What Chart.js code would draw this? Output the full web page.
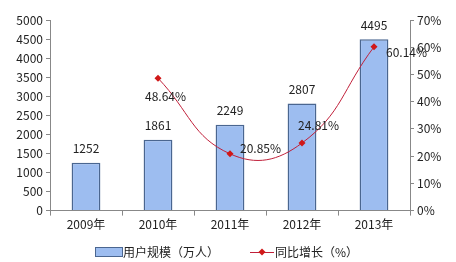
<!DOCTYPE html>
<html>
<head>
<meta charset="utf-8">
<script src="https://cdn.jsdelivr.net/npm/chart.js@4.4.1/dist/chart.umd.min.js"></script>
<style>
  html, body { margin:0; padding:0; background:#fff; }
  #wrap { width:456px; height:262px; position:relative; }
</style>
</head>
<body>
<div id="wrap"><canvas id="c" width="456" height="262"></canvas></div>
<script>
const years = ["2009年", "2010年", "2011年", "2012年", "2013年"];
const users = [1252, 1861, 2249, 2807, 4495];
const growth = [null, 48.64, 20.85, 24.81, 60.14];
const leftTicks = [0, 500, 1000, 1500, 2000, 2500, 3000, 3500, 4000, 4500, 5000];
const rightTicks = [0, 10, 20, 30, 40, 50, 60, 70];

const FONT = "'Noto Sans CJK SC', 'DejaVu Sans', sans-serif";
const BAR_FILL = "#9dbdf0";
const BAR_EDGE = "#4a6690";
const LINE_COL = "#c0203a";
const DOT_COL = "#d01818";

// value labels + legend
const labelPlugin = {
  id: "labels",
  afterDatasetsDraw(chart) {
    const ctx = chart.ctx;
    ctx.save();
    ctx.font = "12px " + FONT;
    ctx.fillStyle = "#222";
    chart.getDatasetMeta(0).data.forEach((bar, i) => {
      ctx.textAlign = "center";
      ctx.textBaseline = "middle";
      ctx.fillText(users[i], bar.x, bar.y - 14);
    });
    const offs = [null, [-13, 18], [10, -5], [-4, -18], [12, 6]];
    chart.getDatasetMeta(1).data.forEach((pt, i) => {
      if (growth[i] == null) return;
      ctx.textAlign = "left";
      ctx.textBaseline = "middle";
      ctx.fillText(growth[i].toFixed(2) + "%", pt.x + offs[i][0], pt.y + offs[i][1]);
    });

    // legend
    const ly = 252;
    ctx.fillStyle = BAR_FILL;
    ctx.strokeStyle = BAR_EDGE;
    ctx.lineWidth = 1;
    ctx.fillRect(95, ly - 5, 27, 9);
    ctx.strokeRect(95.5, ly - 4.5, 27, 9);
    ctx.fillStyle = "#222";
    ctx.textAlign = "left";
    ctx.fillText(chart.data.datasets[0].label, 123, ly);
    ctx.strokeStyle = LINE_COL;
    ctx.beginPath();
    ctx.moveTo(250, ly + 0.5);
    ctx.lineTo(274, ly + 0.5);
    ctx.stroke();
    ctx.fillStyle = DOT_COL;
    ctx.beginPath();
    ctx.moveTo(262, ly - 3.5);
    ctx.lineTo(265.5, ly);
    ctx.lineTo(262, ly + 3.5);
    ctx.lineTo(258.5, ly);
    ctx.closePath();
    ctx.fill();
    ctx.fillStyle = "#222";
    ctx.fillText(chart.data.datasets[1].label, 275, ly);
    ctx.restore();
  }
};

new Chart(document.getElementById("c"), {
  data: {
    labels: years,
    datasets: [
      {
        type: "bar",
        label: "用户规模（万人）",
        data: users,
        yAxisID: "y",
        backgroundColor: BAR_FILL,
        borderColor: BAR_EDGE,
        borderWidth: 1.5,
        barPercentage: 0.4,
        categoryPercentage: 1,
        order: 2
      },
      {
        type: "line",
        label: "同比增长（%）",
        data: growth,
        yAxisID: "y1",
        borderColor: LINE_COL,
        backgroundColor: DOT_COL,
        borderWidth: 1,
        pointStyle: "rectRot",
        pointRadius: 3.5,
        pointBorderWidth: 0,
        tension: 0.45,
        order: 1
      }
    ]
  },
  options: {
    responsive: false,
    animation: false,
    layout: { padding: { top: 20, right: 12, left: 0, bottom: 28 } },
    scales: {
      x: {
        grid: { display: true, drawOnChartArea: false, offset: true, color: "#888", tickLength: 5 },
        border: { color: "#888" },
        ticks: { color: "#222", font: { family: FONT, size: 12 }, padding: 2 }
      },
      y: {
        position: "left",
        min: 0, max: 5000,
        afterBuildTicks: ax => { ax.ticks = leftTicks.map(v => ({ value: v })); },
        afterFit: ax => { ax.width = 50; },
        grid: { display: true, drawOnChartArea: false, color: "#888", tickLength: 4 },
        border: { color: "#888" },
        ticks: { color: "#222", font: { family: FONT, size: 12 }, padding: 3, callback: v => String(v) }
      },
      y1: {
        position: "right",
        min: 0, max: 70,
        afterBuildTicks: ax => { ax.ticks = rightTicks.map(v => ({ value: v })); },
        afterFit: ax => { ax.width = 34; },
        grid: { display: true, drawOnChartArea: false, color: "#888", tickLength: 4 },
        border: { color: "#888" },
        ticks: { color: "#222", font: { family: FONT, size: 12 }, padding: 3, callback: v => v + "%" }
      }
    },
    plugins: {
      legend: { display: false },
      tooltip: { enabled: false }
    }
  },
  plugins: [labelPlugin]
});
</script>
</body>
</html>
